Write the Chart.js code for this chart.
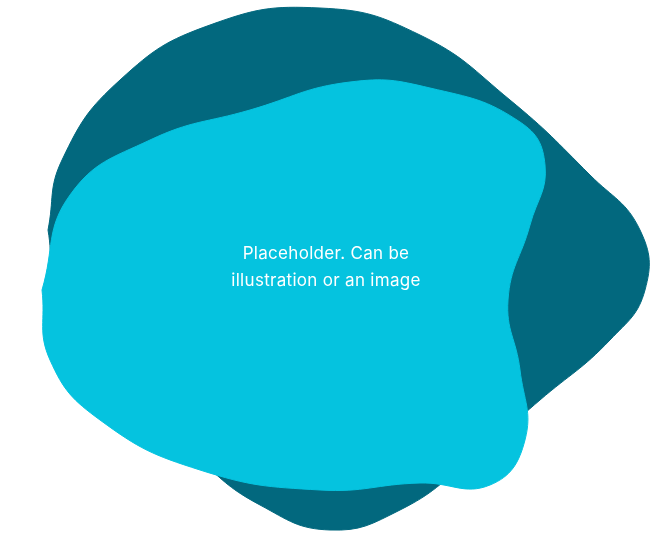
<!DOCTYPE html>
<html>
<head>
<meta charset="utf-8">
<script src="https://cdn.jsdelivr.net/npm/chart.js@4"></script>
<style>
  html, body { margin: 0; padding: 0; background: #fff; }
  #wrap { position: relative; width: 652px; height: 558px; }
  #label {
    position: absolute; left: 0; width: 652px; top: 240px;
    text-align: center; color: #fff; font-family: Inter, "Noto Sans", sans-serif;
    font-size: 17px; line-height: 27px; letter-spacing: 0.3px; pointer-events: none;
  }
</style>
</head>
<body>
<div id="wrap">
  <canvas id="blobChart" width="652" height="558"></canvas>
  <div id="label">Placeholder. Can be<br>illustration or an image</div>
</div>
<script>
// outline of the dark back shape
const backX = [48, 62, 120, 210, 320, 420, 510, 590, 640, 645, 610, 540, 470, 400, 330, 260, 200, 120, 60];
const backY = [230, 160, 80, 25, 8, 35, 100, 175, 230, 290, 340, 400, 460, 510, 530, 505, 460, 380, 300];
// outline of the light front shape
const frontX = [42, 70, 150, 250, 350, 430, 520, 545, 530, 508, 520, 525, 490, 420, 320, 200, 100, 50];
const frontY = [290, 195, 140, 110, 82, 88, 122, 165, 225, 300, 370, 440, 485, 483, 490, 470, 420, 360];

function toPoints(xs, ys) {
    const pts = xs.map(function(x, i) { return { x: x, y: ys[i] }; });
    pts.push(pts[0]);
    return pts;
}

document.addEventListener('DOMContentLoaded', function() {
    const ctx = document.getElementById('blobChart');
    new Chart(ctx, {
        type: 'scatter',
        data: {
            datasets: [
                {
                    data: toPoints(frontX, frontY),
                    showLine: true,
                    tension: 0.45,
                    fill: 'shape',
                    backgroundColor: '#05c3df',
                    borderColor: '#05c3df',
                    borderWidth: 1,
                    pointRadius: 0
                },
                {
                    data: toPoints(backX, backY),
                    showLine: true,
                    tension: 0.45,
                    fill: 'shape',
                    backgroundColor: '#02687e',
                    borderColor: '#02687e',
                    borderWidth: 1,
                    pointRadius: 0
                }
            ]
        },
        options: {
            responsive: false,
            animation: false,
            layout: { padding: 0 },
            plugins: { legend: { display: false }, tooltip: { enabled: false } },
            scales: {
                x: { type: 'linear', min: 0, max: 652, display: false },
                y: { type: 'linear', min: 0, max: 558, reverse: true, display: false }
            }
        }
    });
});
</script>
</body>
</html>
